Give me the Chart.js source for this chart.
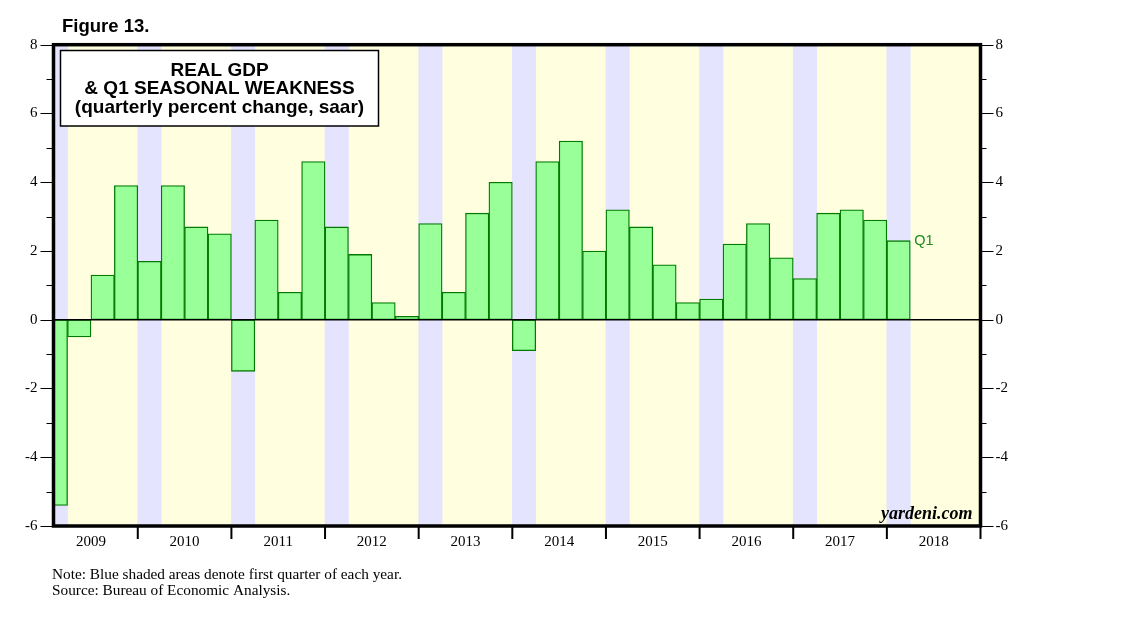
<!DOCTYPE html>
<html>
<head>
<meta charset="utf-8">
<script src="https://cdn.jsdelivr.net/npm/chart.js@4/dist/chart.umd.min.js"></script>
<style>
  body { margin: 0; background: #fff; }
  #c { display: block; }
</style>
</head>
<body>
<canvas id="c" width="1138" height="621"></canvas>
<script>
// quarters shown, and real GDP % change (saar) for each
const quarters = [
  '2009 Q1','2009 Q2','2009 Q3','2009 Q4',
  '2010 Q1','2010 Q2','2010 Q3','2010 Q4',
  '2011 Q1','2011 Q2','2011 Q3','2011 Q4',
  '2012 Q1','2012 Q2','2012 Q3','2012 Q4',
  '2013 Q1','2013 Q2','2013 Q3','2013 Q4',
  '2014 Q1','2014 Q2','2014 Q3','2014 Q4',
  '2015 Q1','2015 Q2','2015 Q3','2015 Q4',
  '2016 Q1','2016 Q2','2016 Q3','2016 Q4',
  '2017 Q1','2017 Q2','2017 Q3','2017 Q4',
  '2018 Q1'
];
const gdp = [
  -5.4, -0.5, 1.3, 3.9,
  1.7, 3.9, 2.7, 2.5,
  -1.5, 2.9, 0.8, 4.6,
  2.7, 1.9, 0.5, 0.1,
  2.8, 0.8, 3.1, 4.0,
  -0.9, 4.6, 5.2, 2.0,
  3.2, 2.7, 1.6, 0.5,
  0.6, 2.2, 2.8, 1.8,
  1.2, 3.1, 3.2, 2.9,
  2.3
];
const years = ['2009','2010','2011','2012','2013','2014','2015','2016','2017','2018'];
const yTicks = [-6, -4, -2, 0, 2, 4, 6, 8];

// quarter label -> middle of that quarter on a year axis
function qTime(q) {
  const parts = q.split(' Q');
  return +parts[0] + (+parts[1] - 1) * 0.25 + 0.125;
}

const barData = quarters.map((q, i) => ({ x: qTime(q), y: gdp[i] }));
const shadeData = years.map(y => ({ x: qTime(y + ' Q1'), y: [-6, 8] }));

const serif = 'Liberation Serif, Times New Roman, serif';
const sans = 'Liberation Sans, Arial, sans-serif';

const decor = {
  id: 'decor',
  beforeDatasetsDraw(chart) {
    const { ctx, chartArea: a } = chart;
    ctx.save();
    ctx.fillStyle = '#FFFFE0';
    ctx.fillRect(a.left, a.top, a.width, a.height);
    ctx.restore();
  },
  afterDatasetsDraw(chart) {
    const { ctx, chartArea: a, scales } = chart;
    const x = scales.x, y = scales.y;
    ctx.save();
    // zero line
    const y0 = y.getPixelForValue(0);
    ctx.strokeStyle = '#000';
    ctx.lineWidth = 1.5;
    ctx.beginPath();
    ctx.moveTo(a.left, y0);
    ctx.lineTo(a.right, y0);
    ctx.stroke();

    // y tick marks both sides
    ctx.lineWidth = 1;
    for (let v = -6; v <= 8; v++) {
      const py = Math.round(y.getPixelForValue(v)) + 0.5;
      const major = v % 2 === 0;
      ctx.beginPath();
      ctx.moveTo(a.left - (major ? 13 : 7), py);
      ctx.lineTo(a.left, py);
      ctx.moveTo(a.right, py);
      ctx.lineTo(a.right + (major ? 13 : 6), py);
      ctx.stroke();
    }
    // year boundary ticks
    ctx.lineWidth = 2;
    for (let i = 1; i <= years.length; i++) {
      const px = x.getPixelForValue(+years[0] + i);
      ctx.beginPath();
      ctx.moveTo(px, a.bottom);
      ctx.lineTo(px, a.bottom + 13);
      ctx.stroke();
    }
    // frame
    ctx.lineWidth = 3.5;
    ctx.strokeRect(a.left, a.top, a.width, a.height);

    // Q1 label next to the last bar
    const last = barData[barData.length - 1];
    ctx.fillStyle = '#1f8a1f';
    ctx.font = '14.5px ' + sans;
    ctx.textBaseline = 'middle';
    ctx.textAlign = 'left';
    ctx.fillText('Q1', x.getPixelForValue(last.x + 0.125) + 4, y.getPixelForValue(last.y));

    // source mark
    ctx.fillStyle = '#000';
    ctx.font = 'italic bold 18px ' + serif;
    ctx.textAlign = 'right';
    ctx.textBaseline = 'alphabetic';
    ctx.fillText('yardeni.com', a.right - 8, a.bottom - 7);
    ctx.restore();
  },
  afterDraw(chart) {
    const { ctx } = chart;
    ctx.save();
    ctx.fillStyle = '#000';
    ctx.font = 'bold 18.5px ' + sans;
    ctx.textAlign = 'left';
    ctx.fillText('Figure 13.', 62, 32);

    // title box
    ctx.fillStyle = '#fff';
    ctx.fillRect(60.5, 50.5, 318, 75.5);
    ctx.strokeStyle = '#000';
    ctx.lineWidth = 1.5;
    ctx.strokeRect(60.5, 50.5, 318, 75.5);
    ctx.fillStyle = '#000';
    ctx.font = 'bold 19px ' + sans;
    ctx.textAlign = 'center';
    ctx.fillText('REAL GDP', 219.5, 75.5);
    ctx.fillText('& Q1 SEASONAL WEAKNESS', 219.5, 94);
    ctx.fillText('(quarterly percent change, saar)', 219.5, 112.5);

    // notes
    ctx.font = '15.3px ' + serif;
    ctx.textAlign = 'left';
    ctx.fillText('Note: Blue shaded areas denote first quarter of each year.', 52, 579);
    ctx.fillText('Source: Bureau of Economic Analysis.', 52, 595);
    ctx.restore();
  }
};

function yAxis(position, width, pad) {
  return {
    type: 'linear',
    position: position,
    min: -6,
    max: 8,
    afterBuildTicks(s) { s.ticks = yTicks.map(v => ({ value: v })); },
    afterFit(s) { s.width = width; },
    grid: { display: false, drawTicks: false },
    border: { display: false },
    ticks: {
      padding: pad,
      color: '#000',
      font: { family: serif, size: 15 },
      callback: (v) => String(v)
    }
  };
}

new Chart(document.getElementById('c'), {
  type: 'bar',
  data: {
    datasets: [
      {
        label: 'Real GDP',
        data: barData,
        backgroundColor: '#99FF99',
        borderColor: '#007A00',
        borderWidth: 1.3,
        borderSkipped: false,
        grouped: false,
        clip: 0,
        order: 0
      },
      {
        label: 'Q1',
        data: shadeData,
        backgroundColor: '#E4E4FF',
        borderWidth: 0,
        grouped: false,
        clip: 0,
        order: 1
      }
    ]
  },
  options: {
    responsive: false,
    animation: false,
    layout: { padding: { top: 44.7, left: 0, right: 0, bottom: 0 } },
    datasets: { bar: { categoryPercentage: 1, barPercentage: 1 } },
    plugins: { legend: { display: false }, tooltip: { enabled: false } },
    scales: {
      x: {
        type: 'linear',
        min: 2009.1,
        max: 2019,
        offset: false,
        afterBuildTicks(s) { s.ticks = years.map(yr => ({ value: +yr + 0.5 })); },
        afterFit(s) { s.height = 95; },
        grid: { display: false, drawTicks: false, offset: false },
        border: { display: false },
        ticks: {
          autoSkip: false,
          maxRotation: 0,
          padding: 7,
          color: '#000',
          font: { family: serif, size: 15 },
          callback: (v, i) => years[i]
        }
      },
      y: yAxis('left', 53.5, 16),
      y2: yAxis('right', 157.5, 15)
    }
  },
  plugins: [decor]
});
</script>
</body>
</html>
